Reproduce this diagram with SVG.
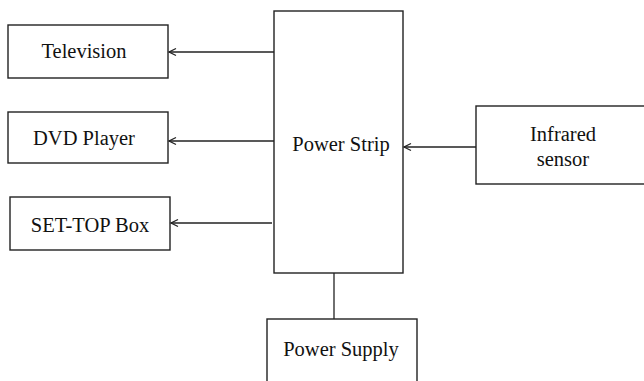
<svg xmlns="http://www.w3.org/2000/svg" width="644" height="381" viewBox="0 0 644 381">
<defs>
<style>
.box{fill:#fff;stroke:#222;stroke-width:1.4}
.lbl{font-family:'Times New Roman','Liberation Serif','DejaVu Serif',serif;font-size:20.5px;fill:#111;text-anchor:middle}
.conn{stroke:#222;stroke-width:1.3;fill:none}
</style>
<marker id="arr" markerWidth="10" markerHeight="10" refX="8" refY="5" orient="auto" markerUnits="userSpaceOnUse">
<path d="M1,1.5 L8,5 L1,8.5" fill="none" stroke="#222" stroke-width="1.3"/>
</marker>
</defs>
<rect width="644" height="381" fill="#fff"/>
<g id="television"><rect class="box" x="8" y="25" width="160" height="53"/><text class="lbl" x="84" y="58">Television</text></g>
<g id="dvd-player"><rect class="box" x="8" y="112" width="160" height="51"/><text class="lbl" x="84" y="145">DVD Player</text></g>
<g id="set-top-box"><rect class="box" x="10" y="197" width="160" height="53"/><text class="lbl" x="90" y="232">SET-TOP Box</text></g>
<g id="power-strip"><rect class="box" x="274" y="11" width="129" height="262"/><text class="lbl" x="341" y="151">Power Strip</text></g>
<g id="infrared-sensor"><rect class="box" x="476" y="106" width="170" height="78"/><text class="lbl" x="563" y="141">Infrared</text><text class="lbl" x="563" y="166">sensor</text></g>
<g id="power-supply"><rect class="box" x="267" y="319" width="150" height="66"/><text class="lbl" x="341" y="356">Power Supply</text></g>
<g id="connectors">
<line class="conn" x1="274" y1="52" x2="169" y2="52" marker-end="url(#arr)"/>
<line class="conn" x1="274" y1="141" x2="169" y2="141" marker-end="url(#arr)"/>
<line class="conn" x1="272" y1="223" x2="171" y2="223" marker-end="url(#arr)"/>
<line class="conn" x1="476" y1="147" x2="404" y2="147" marker-end="url(#arr)"/>
<line class="conn" x1="334" y1="273" x2="334" y2="319"/>
</g>
</svg>
